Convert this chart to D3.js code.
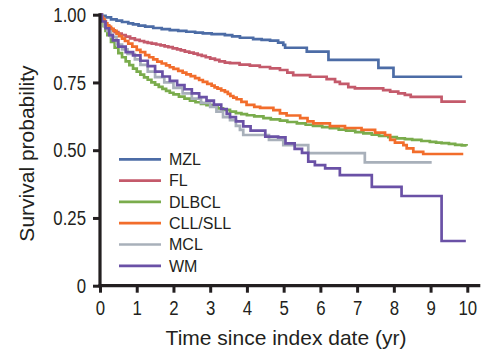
<!DOCTYPE html>
<html>
<head>
<meta charset="utf-8">
<script src="https://cdn.jsdelivr.net/npm/d3@7/dist/d3.min.js"></script>
<style>
  html, body { margin: 0; padding: 0; background: #ffffff; }
  svg { display: block; }
  text { font-family: 'Liberation Sans', Arial, sans-serif; fill: #231f20; }
</style>
</head>
<body>
<svg id="chart" width="483" height="357"></svg>
<script>
// ---- data (time in years, survival probability) ----
const seriesNames = ["MZL", "FL", "DLBCL", "CLL/SLL", "MCL", "WM"];
const seriesColors = ["#4c6ca6", "#c45a6b", "#7aac4c", "#f26d2b", "#a8b0ba", "#6a51a6"];

const mzl = [[0,1],[0.05,0.996],[0.15,0.99],[0.3,0.983],[0.45,0.978],[0.6,0.973],[0.77,0.968],[0.9,0.964],[1.05,0.96],[1.23,0.956],[1.45,0.951],[1.68,0.947],[1.9,0.943],[2.13,0.94],[2.35,0.937],[2.59,0.934],[2.8,0.931],[3.04,0.928],[3.4,0.925],[3.6,0.92],[3.81,0.915],[4.17,0.91],[4.4,0.907],[4.63,0.904],[4.85,0.897],[4.99,0.889],[5.04,0.878],[5.63,0.864],[6.22,0.833],[7.58,0.804],[7.99,0.771],[9.86,0.771]];

const fl = [[0,1],[0.03,0.99],[0.07,0.978],[0.12,0.967],[0.18,0.957],[0.25,0.949],[0.32,0.942],[0.4,0.936],[0.5,0.93],[0.59,0.925],[0.7,0.919],[0.82,0.913],[0.95,0.907],[1.08,0.903],[1.2,0.899],[1.3,0.896],[1.41,0.893],[1.53,0.89],[1.65,0.887],[1.76,0.883],[1.86,0.88],[1.98,0.876],[2.1,0.872],[2.2,0.868],[2.31,0.864],[2.43,0.86],[2.55,0.856],[2.66,0.852],[2.77,0.848],[2.88,0.843],[3.0,0.838],[3.13,0.833],[3.25,0.828],[3.4,0.823],[3.54,0.821],[3.8,0.816],[4.08,0.812],[4.35,0.807],[4.63,0.802],[4.9,0.796],[5.1,0.786],[5.26,0.777],[5.72,0.771],[6.17,0.762],[6.4,0.752],[6.53,0.745],[6.76,0.733],[6.94,0.728],[7.71,0.722],[7.9,0.716],[8.12,0.71],[8.3,0.704],[8.46,0.697],[9.3,0.679],[9.96,0.679]];

const dlbcl = [[0,1],[0.05,0.978],[0.1,0.958],[0.15,0.94],[0.2,0.925],[0.3,0.9],[0.4,0.878],[0.5,0.858],[0.6,0.843],[0.7,0.828],[0.8,0.814],[0.9,0.801],[1.0,0.79],[1.1,0.779],[1.2,0.769],[1.3,0.76],[1.4,0.75],[1.5,0.742],[1.6,0.734],[1.7,0.726],[1.8,0.719],[1.9,0.712],[2.0,0.706],[2.15,0.698],[2.3,0.69],[2.45,0.683],[2.6,0.677],[2.75,0.671],[2.9,0.666],[3.05,0.661],[3.2,0.654],[3.35,0.649],[3.54,0.642],[3.7,0.637],[3.85,0.633],[4.0,0.629],[4.2,0.625],[4.45,0.618],[4.65,0.614],[4.9,0.609],[5.1,0.604],[5.36,0.599],[5.6,0.594],[5.8,0.59],[6.05,0.585],[6.26,0.581],[6.5,0.576],[6.7,0.572],[6.95,0.567],[7.17,0.562],[7.4,0.557],[7.6,0.553],[7.85,0.548],[8.08,0.544],[8.3,0.541],[8.5,0.538],[8.75,0.534],[8.98,0.531],[9.15,0.528],[9.3,0.526],[9.5,0.523],[9.67,0.52],[9.85,0.518],[9.98,0.516]];

const cll = [[0,1],[0.04,0.992],[0.08,0.984],[0.12,0.976],[0.16,0.968],[0.2,0.961],[0.25,0.955],[0.3,0.948],[0.37,0.94],[0.45,0.93],[0.52,0.921],[0.6,0.912],[0.68,0.903],[0.77,0.893],[0.88,0.882],[1.0,0.87],[1.1,0.862],[1.23,0.851],[1.34,0.843],[1.45,0.835],[1.56,0.827],[1.68,0.82],[1.8,0.813],[1.9,0.806],[2.0,0.8],[2.13,0.793],[2.25,0.786],[2.35,0.78],[2.47,0.773],[2.59,0.766],[2.7,0.759],[2.8,0.752],[2.92,0.745],[3.04,0.738],[3.12,0.732],[3.2,0.727],[3.3,0.721],[3.4,0.715],[3.48,0.708],[3.55,0.7],[3.63,0.694],[3.72,0.688],[3.85,0.678],[3.99,0.667],[4.2,0.66],[4.36,0.656],[4.72,0.648],[4.9,0.636],[5.08,0.628],[5.45,0.618],[5.65,0.606],[5.81,0.599],[6.26,0.589],[6.67,0.582],[7.12,0.575],[7.49,0.565],[7.76,0.556],[7.9,0.538],[8.03,0.528],[8.26,0.519],[8.35,0.507],[8.53,0.494],[8.8,0.486],[9.89,0.486]];

const mcl = [[0,1],[0.05,0.985],[0.12,0.96],[0.2,0.94],[0.3,0.918],[0.45,0.89],[0.6,0.872],[0.75,0.855],[0.95,0.835],[1.1,0.815],[1.3,0.79],[1.5,0.77],[1.75,0.75],[2.0,0.73],[2.25,0.71],[2.5,0.69],[2.75,0.675],[3.0,0.66],[3.17,0.642],[3.35,0.622],[3.54,0.611],[3.7,0.59],[3.81,0.575],[3.9,0.556],[4.6,0.538],[4.99,0.519],[5.67,0.489],[7.21,0.455],[9.03,0.455]];

const wm = [[0,1],[0.05,0.975],[0.15,0.95],[0.25,0.925],[0.35,0.905],[0.5,0.882],[0.7,0.862],[0.9,0.85],[1.1,0.83],[1.3,0.81],[1.5,0.79],[1.7,0.772],[1.9,0.756],[2.1,0.74],[2.3,0.725],[2.5,0.71],[2.7,0.696],[2.9,0.683],[3.1,0.668],[3.3,0.652],[3.45,0.634],[3.54,0.622],[3.7,0.606],[3.9,0.588],[4.1,0.572],[4.5,0.55],[4.85,0.547],[5.05,0.525],[5.3,0.505],[5.5,0.49],[5.67,0.458],[5.85,0.445],[6.13,0.433],[6.53,0.408],[7.4,0.365],[8.21,0.331],[9.3,0.165],[9.96,0.165]];

const seriesData = [mzl, fl, dlbcl, cll, mcl, wm];
const drawOrder = [0, 1, 2, 4, 3, 5];

const xTicks = [0,1,2,3,4,5,6,7,8,9,10];
const yTicks = [0, 0.25, 0.5, 0.75, 1];
const yTickLabels = ["0", "0.25", "0.50", "0.75", "1.00"];

const xTitle = "Time since index date (yr)";
const yTitle = "Survival probability";

// ---- layout ----
const svg = d3.select("#chart");
const x = d3.scaleLinear().domain([0, 10]).range([100, 467.3]);
const y = d3.scaleLinear().domain([0, 1]).range([285.7, 14.7]);
const axisColor = "#231f20";
const narrow = 0.8; // horizontal condensing of tick labels

// curves
const line = d3.line().x(d => x(d[0])).y(d => y(d[1])).curve(d3.curveStepAfter);
const gLines = svg.append("g");
drawOrder.forEach(i => {
  gLines.append("path")
    .attr("d", line(seriesData[i]))
    .attr("fill", "none")
    .attr("stroke", seriesColors[i])
    .attr("stroke-width", 2.7)
    .attr("stroke-linejoin", "miter");
});

function condense(sel) {
  sel.each(function () {
    const t = d3.select(this);
    const tx = +t.attr("x") || 0;
    t.attr("x", tx / narrow).attr("transform", `scale(${narrow},1)`);
  });
}

// x axis
const xAxis = svg.append("g")
  .attr("transform", `translate(0,${y(0)})`)
  .call(d3.axisBottom(x).tickValues(xTicks).tickFormat(d3.format("d")).tickSize(7).tickSizeOuter(0).tickPadding(7.5));
xAxis.select(".domain").remove();
xAxis.append("line")
  .attr("x1", x(0) - 1.5).attr("x2", x(10) + 13)
  .attr("y1", 0).attr("y2", 0)
  .attr("stroke", axisColor).attr("stroke-width", 3.2);
xAxis.selectAll(".tick line").attr("stroke", axisColor).attr("stroke-width", 3);
xAxis.selectAll(".tick text").attr("font-size", 21).attr("fill", axisColor)
  .style("font-family", "'Liberation Sans', Arial, sans-serif").call(condense);

// y axis
const yAxis = svg.append("g")
  .attr("transform", `translate(${x(0)},0)`)
  .call(d3.axisLeft(y).tickValues(yTicks).tickFormat((d, i) => yTickLabels[i]).tickSize(7).tickSizeOuter(0).tickPadding(7));
yAxis.select(".domain").remove();
yAxis.append("line")
  .attr("x1", 0).attr("x2", 0)
  .attr("y1", y(0) + 1.5).attr("y2", y(1) - 1.5)
  .attr("stroke", axisColor).attr("stroke-width", 3.2);
yAxis.selectAll(".tick line").attr("stroke", axisColor).attr("stroke-width", 3);
yAxis.selectAll(".tick text").attr("font-size", 21).attr("fill", axisColor)
  .style("font-family", "'Liberation Sans', Arial, sans-serif").call(condense);

// titles
svg.append("text")
  .attr("x", 286).attr("y", 345)
  .attr("text-anchor", "middle")
  .attr("font-size", 21)
  .text(xTitle);
svg.append("text")
  .attr("transform", "translate(33.5,153.5) rotate(-90)")
  .attr("text-anchor", "middle")
  .attr("font-size", 21)
  .text(yTitle);

// legend
const legend = svg.append("g");
seriesNames.forEach((name, i) => {
  const ly = 159.3 + i * 21.3;
  legend.append("line")
    .attr("x1", 119).attr("x2", 161)
    .attr("y1", ly).attr("y2", ly)
    .attr("stroke", seriesColors[i]).attr("stroke-width", 2.7);
  legend.append("text")
    .attr("x", 169).attr("y", ly + 5.8)
    .attr("font-size", 16)
    .text(name);
});
</script>
</body>
</html>
